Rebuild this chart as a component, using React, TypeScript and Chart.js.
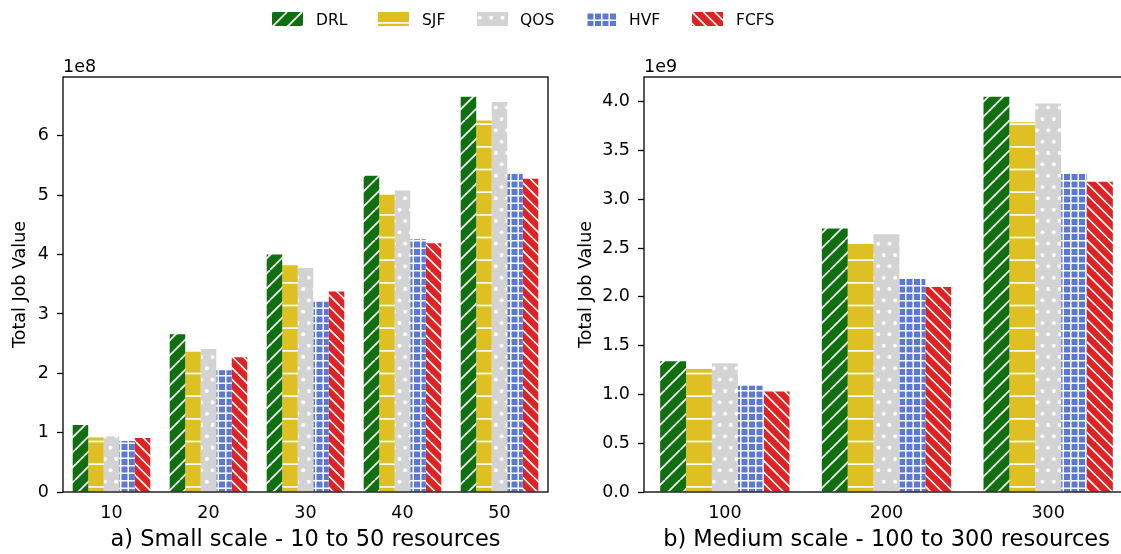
import React, { useEffect, useRef } from 'react';
import { Chart, registerables } from 'chart.js';

Chart.register(...registerables);

const FONT = '"DejaVu Sans", "Liberation Sans", sans-serif';

const seriesNames = ['DRL', 'SJF', 'QOS', 'HVF', 'FCFS'];
const seriesColors = ['#107010', '#dfc023', '#d3d3d3', '#5a78d6', '#e02222'];
const seriesHatches = ['fwd', 'hline', 'dots', 'grid', 'back'];

const smallCategories = ['10', '20', '30', '40', '50'];
const smallDRL = [1.13e8, 2.66e8, 4.0e8, 5.33e8, 6.66e8];
const smallSJF = [0.92e8, 2.39e8, 3.82e8, 5.01e8, 6.26e8];
const smallQOS = [0.94e8, 2.41e8, 3.78e8, 5.08e8, 6.57e8];
const smallHVF = [0.86e8, 2.05e8, 3.21e8, 4.26e8, 5.38e8];
const smallFCFS = [0.91e8, 2.27e8, 3.38e8, 4.19e8, 5.28e8];

const mediumCategories = ['100', '200', '300'];
const mediumDRL = [1.34e9, 2.7e9, 4.05e9];
const mediumSJF = [1.26e9, 2.54e9, 3.79e9];
const mediumQOS = [1.32e9, 2.64e9, 3.98e9];
const mediumHVF = [1.09e9, 2.19e9, 3.27e9];
const mediumFCFS = [1.03e9, 2.1e9, 3.18e9];

const smallYTicks = [0, 1e8, 2e8, 3e8, 4e8, 5e8, 6e8];
const mediumYTicks = [0, 0.5e9, 1.0e9, 1.5e9, 2.0e9, 2.5e9, 3.0e9, 3.5e9, 4.0e9];
const smallOffsetLabel = '1e8';
const mediumOffsetLabel = '1e9';
const yTitle = 'Total Job Value';
const smallXTitle = 'a) Small scale - 10 to 50 resources';
const mediumXTitle = 'b) Medium scale - 100 to 300 resources';

function makePattern(kind: string, bg: string): CanvasPattern | string {
  const c = document.createElement('canvas');
  let w = 34;
  let h = 34;
  if (kind === 'fwd') { w = 30; h = 30; }
  if (kind === 'hline') { w = 4; h = 68; }
  if (kind === 'dots') { w = 34; h = 68; }
  if (kind === 'grid') { w = 30; h = 30; }
  c.width = w;
  c.height = h;
  const g = c.getContext('2d');
  if (!g) return bg;
  g.fillStyle = bg;
  g.fillRect(0, 0, w, h);
  g.strokeStyle = '#ffffff';
  g.fillStyle = '#ffffff';
  g.lineWidth = 1.7;
  if (kind === 'fwd' || kind === 'back') {
    const n = kind === 'fwd' ? 2 : 3;
    const s = w / n;
    for (let k = -6; k <= 6; k++) {
      g.beginPath();
      if (kind === 'fwd') {
        g.moveTo(k * s, h);
        g.lineTo(k * s + h, 0);
      } else {
        g.moveTo(k * s, 0);
        g.lineTo(k * s + h, h);
      }
      g.stroke();
    }
  } else if (kind === 'hline') {
    const s = h / 3;
    for (let i = 0; i < 3; i++) {
      g.fillRect(0, i * s + 10, w, 1.7);
    }
  } else if (kind === 'dots') {
    const s = 34 / 3;
    for (let r = -1; r <= 6; r++) {
      const y = r * s + s / 2;
      const off = ((r % 2) + 2) % 2 === 1 ? s / 2 : 0;
      for (let col = -1; col <= 3; col++) {
        const x = col * s + off + s / 4;
        g.beginPath();
        g.arc(x, y, 2, 0, Math.PI * 2);
        g.fill();
      }
    }
  } else if (kind === 'grid') {
    const s = 7.5;
    for (let i = 0; i < 4; i++) {
      g.fillRect(i * s, 0, 1.5, h);
      g.fillRect(0, i * s, w, 1.5);
    }
  }
  const p = g.createPattern(c, 'repeat');
  return p || bg;
}

const framePlugin = {
  id: 'frame',
  afterDatasetsDraw(chart: any, _args: any, opts: any) {
    const { ctx, chartArea } = chart;
    const { left, top, right, bottom } = chartArea;
    ctx.save();
    ctx.strokeStyle = '#000000';
    ctx.lineWidth = 1.3;
    ctx.strokeRect(left, top, right - left, bottom - top);
    ctx.font = `17.5px ${FONT}`;
    ctx.fillStyle = '#000000';
    ctx.textAlign = 'left';
    ctx.textBaseline = 'alphabetic';
    ctx.fillText(opts.label, left, top - 5);
    ctx.restore();
  },
};

interface PanelProps {
  categories: string[];
  series: number[][];
  yTicks: number[];
  fmt: (v: number) => string;
  offsetLabel: string;
  xTitle: string;
  left: number;
  width: number;
  yWidth: number;
  titlePad: number;
}

function Panel(props: PanelProps) {
  const ref = useRef<HTMLCanvasElement>(null);
  useEffect(() => {
    const canvas = ref.current;
    if (!canvas) return;
    const all = props.series.flat();
    const yMax = Math.max(...all) * 1.05;
    const chartWidth = 485;
    const padRight = props.width - props.yWidth - chartWidth;
    const chart = new Chart(canvas, {
      type: 'bar',
      data: {
        labels: props.categories,
        datasets: props.series.map((vals, i) => ({
          label: seriesNames[i],
          data: vals,
          backgroundColor: makePattern(seriesHatches[i], seriesColors[i]) as any,
          borderWidth: 0,
          categoryPercentage: 0.8,
          barPercentage: 1.0,
        })),
      },
      options: {
        animation: false,
        responsive: false,
        maintainAspectRatio: false,
        devicePixelRatio: 1,
        layout: { padding: { left: 0, right: padRight, top: 77, bottom: 0 } },
        plugins: {
          legend: { display: false },
          tooltip: { enabled: false },
          frame: { label: props.offsetLabel },
        } as any,
        scales: {
          x: {
            type: 'category',
            offset: true,
            grid: { display: false, drawTicks: false, offset: false },
            border: { display: false },
            ticks: {
              color: '#000000',
              font: { family: FONT, size: 17.5 },
              padding: 11,
              maxRotation: 0,
              autoSkip: false,
            },
            title: {
              display: true,
              text: props.xTitle,
              color: '#000000',
              font: { family: FONT, size: 22.5 },
              padding: { top: 0, bottom: 0 },
            },
            afterFit: (s: any) => { s.height = 62; },
          },
          y: {
            min: 0,
            max: yMax,
            grid: {
              drawOnChartArea: false,
              drawTicks: true,
              tickLength: 6,
              tickColor: '#000000',
              tickWidth: 1.3,
              color: 'rgba(0,0,0,0)',
            },
            border: { display: false },
            afterBuildTicks: (s: any) => {
              s.ticks = props.yTicks.map((v) => ({ value: v }));
            },
            ticks: {
              color: '#000000',
              font: { family: FONT, size: 17.5 },
              padding: 8,
              autoSkip: false,
              callback: (v: any) => props.fmt(Number(v)),
            },
            title: {
              display: true,
              text: yTitle,
              color: '#000000',
              font: { family: FONT, size: 17.5 },
              padding: { top: props.titlePad, bottom: 0 },
            },
            afterFit: (s: any) => { s.width = props.yWidth; },
          },
        },
      },
      plugins: [framePlugin as any],
    });
    return () => chart.destroy();
  }, []);
  return (
    <canvas
      ref={ref}
      width={props.width}
      height={554}
      style={{ position: 'absolute', left: props.left, top: 0, width: props.width, height: 554 }}
    />
  );
}

const legendSwatchX = [272, 378, 477, 586, 692];
const legendTextX = [316, 422, 520, 629, 736];

function Swatch({ index, left }: { index: number; left: number }) {
  const ref = useRef<HTMLCanvasElement>(null);
  useEffect(() => {
    const c = ref.current;
    if (!c) return;
    const g = c.getContext('2d');
    if (!g) return;
    g.fillStyle = makePattern(seriesHatches[index], seriesColors[index]) as any;
    g.fillRect(0, 0, c.width, c.height);
  }, []);
  return (
    <canvas
      ref={ref}
      width={31}
      height={14}
      style={{ position: 'absolute', left, top: 12, width: 31, height: 14 }}
    />
  );
}

export default function App() {
  return (
    <div
      style={{
        position: 'fixed',
        left: 0,
        top: 0,
        width: '100vw',
        height: '100vh',
        overflow: 'hidden',
        background: '#ffffff',
      }}
    >
      <Panel
        categories={smallCategories}
        series={[smallDRL, smallSJF, smallQOS, smallHVF, smallFCFS]}
        yTicks={smallYTicks}
        fmt={(v) => String(Math.round(v / 1e8))}
        offsetLabel={smallOffsetLabel}
        xTitle={smallXTitle}
        left={0}
        width={600}
        yWidth={63}
        titlePad={9.5}
      />
      <Panel
        categories={mediumCategories}
        series={[mediumDRL, mediumSJF, mediumQOS, mediumHVF, mediumFCFS]}
        yTicks={mediumYTicks}
        fmt={(v) => (v / 1e9).toFixed(1)}
        offsetLabel={mediumOffsetLabel}
        xTitle={mediumXTitle}
        left={575}
        width={570}
        yWidth={69}
        titlePad={1}
      />
      {seriesNames.map((name, i) => (
        <React.Fragment key={name}>
          <Swatch index={i} left={legendSwatchX[i]} />
          <span
            style={{
              position: 'absolute',
              left: legendTextX[i],
              top: 12.5,
              fontFamily: FONT,
              fontSize: 15.5,
              lineHeight: '15.5px',
              color: '#000000',
              whiteSpace: 'nowrap',
            }}
          >
            {name}
          </span>
        </React.Fragment>
      ))}
    </div>
  );
}
